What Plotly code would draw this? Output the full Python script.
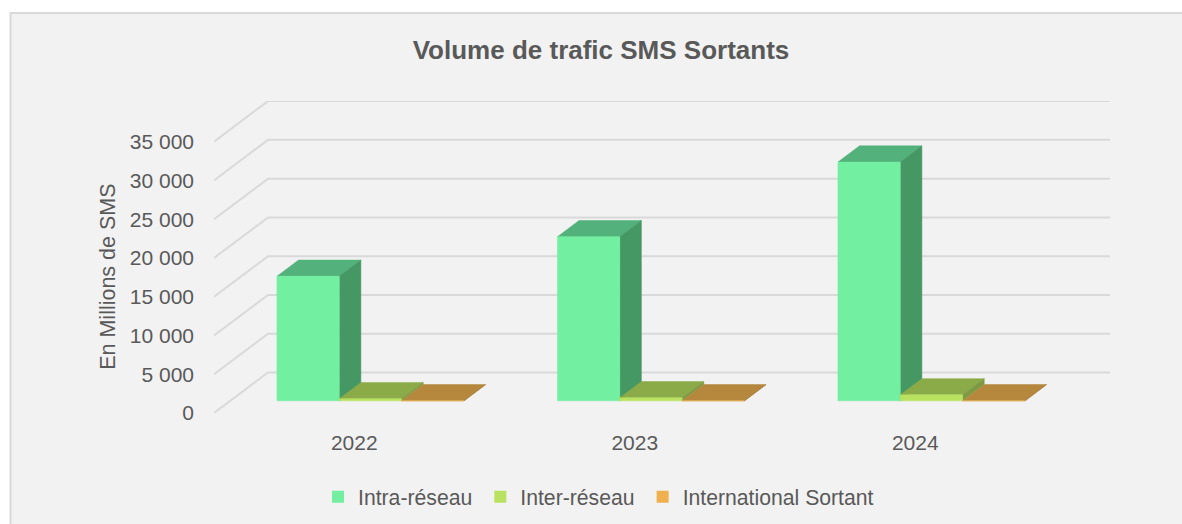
import plotly.graph_objects as go

categories = ["2022", "2023", "2024"]
series_names = ["Intra-réseau", "Inter-réseau", "International Sortant"]
intra_reseau = [16070, 21170, 30800]
inter_reseau = [280, 390, 770]
international = [10, 10, 10]
y_ticks = [0, 5000, 10000, 15000, 20000, 25000, 30000, 35000]
y_tick_labels = ["0", "5 000", "10 000", "15 000", "20 000", "25 000", "30 000", "35 000"]

W, H = 1182, 524
PX_L, PX_R, PX_T, PX_B = 214, 1110, 101, 413.3
CAT_PX = 280.5
VAL_PX = 38.8 / 5000
DEPTH_X = 54 / CAT_PX
DEPTH_Y = 40.6 / VAL_PX
X_MAX = (PX_R - PX_L) / CAT_PX
Y_MAX = (PX_B - PX_T) / VAL_PX
BAR_W = 2 / 9
D0, D1 = 0.3, 0.7
GRID = "#D9D9D9"
TEXT = "#595959"
BG = "#F2F2F2"
FONT = "Liberation Sans"

COLORS = [
    {"front": "#72EFA0", "side": "#459764", "top": "#53B27B"},
    {"front": "#B8E25F", "side": "#7C9A41", "top": "#8BAA48"},
    {"front": "#F0B050", "side": "#A67B38", "top": "#B5883E"},
]

fig = go.Figure()

# 3D-look gridlines: front edge slants back to the wall, then runs along it
for v in y_ticks:
    fig.add_trace(go.Scatter(
        x=[0, DEPTH_X, X_MAX], y=[v, v + DEPTH_Y, v + DEPTH_Y], mode="lines",
        line=dict(color=GRID, width=2), showlegend=False, hoverinfo="skip"))


def project(x, v, d):
    return x + d * DEPTH_X, v + d * DEPTH_Y


def poly(points, color, name):
    xs, ys = zip(*points)
    fig.add_trace(go.Scatter(
        x=list(xs) + [xs[0]], y=list(ys) + [ys[0]], mode="lines", fill="toself",
        fillcolor=color, line=dict(color=color, width=0.5), showlegend=False,
        name=name, hoverinfo="name"))


for c in range(len(categories)):
    for s, values in enumerate([intra_reseau, inter_reseau, international]):
        v = values[c]
        x0 = c + (1 - 3 * BAR_W) / 2 + s * BAR_W
        x1 = x0 + BAR_W
        col = COLORS[s]
        nm = series_names[s]
        poly([project(x0, v, D0), project(x1, v, D0), project(x1, v, D1), project(x0, v, D1)], col["top"], nm)
        poly([project(x1, 0, D0), project(x1, v, D0), project(x1, v, D1), project(x1, 0, D1)], col["side"], nm)
        poly([project(x0, 0, D0), project(x1, 0, D0), project(x1, v, D0), project(x0, v, D0)], col["front"], nm)

for s, nm in enumerate(series_names):
    fig.add_trace(go.Scatter(
        x=[None], y=[None], mode="markers",
        name=nm + '<span style="font-size:11px">&nbsp;</span>',
        marker=dict(symbol="square", size=12, color=COLORS[s]["front"])))

fig.update_layout(
    width=W, height=H, autosize=False,
    margin=dict(l=PX_L, r=W - PX_R, t=PX_T, b=H - PX_B),
    paper_bgcolor="white", plot_bgcolor="rgba(0,0,0,0)",
    font=dict(family=FONT, color=TEXT, size=21),
    title=dict(text="<b>Volume de trafic SMS Sortants</b>", x=601 / W, xanchor="center",
               y=1 - 50 / H, yanchor="middle", font=dict(size=26, color=TEXT, family=FONT)),
    xaxis=dict(range=[0, X_MAX], tickmode="array", tickvals=[0.5, 1.5, 2.5], ticktext=categories,
               showgrid=False, zeroline=False, showline=False, ticks="", ticklabelstandoff=15,
               tickfont=dict(size=21, color=TEXT)),
    yaxis=dict(range=[0, Y_MAX], tickmode="array", tickvals=y_ticks, ticktext=y_tick_labels,
               showgrid=False, zeroline=False, showline=False, ticks="", ticklabelstandoff=19,
               tickfont=dict(size=21, color=TEXT)),
    legend=dict(orientation="h", xref="container", yref="container", x=318 / W, xanchor="left",
                y=1 - 497 / H, yanchor="middle",
                font=dict(size=21.2, color=TEXT), bgcolor="rgba(0,0,0,0)", itemclick=False, itemdoubleclick=False),
    shapes=[dict(type="rect", xref="paper", yref="paper", layer="below",
                 x0=(10.5 - PX_L) / (PX_R - PX_L), x1=(1195 - PX_L) / (PX_R - PX_L),
                 y0=(PX_B - 540) / (PX_B - PX_T), y1=(PX_B - 13) / (PX_B - PX_T),
                 fillcolor=BG, line=dict(color=GRID, width=2))],
    annotations=[dict(text="En Millions de SMS", xref="paper", yref="paper",
                      x=(108 - PX_L) / (PX_R - PX_L), y=(PX_B - 277) / (PX_B - PX_T),
                      showarrow=False, textangle=-90, xanchor="center", yanchor="middle",
                      font=dict(size=21.5, color=TEXT))],
)

fig.write_html("out.html", post_script="document.body.style.margin='0';",
               config={"displayModeBar": False})
